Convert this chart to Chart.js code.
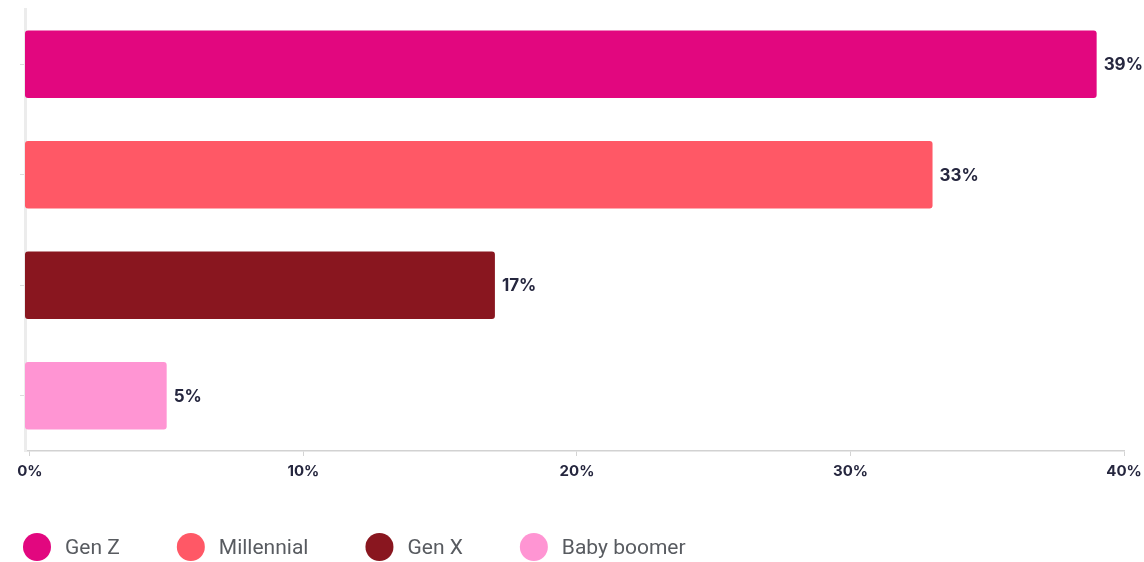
<!DOCTYPE html>
<html>
<head>
<meta charset="utf-8">
<script src="https://cdn.jsdelivr.net/npm/chart.js@4/dist/chart.umd.min.js"></script>
<style>
  html, body { margin: 0; padding: 0; background: #ffffff; }
  #wrap { width: 1144px; height: 562px; }
  canvas { display: block; }
</style>
</head>
<body>
<div id="wrap"><canvas id="chart" width="1144" height="562"></canvas></div>
<script>
// Share of respondents by generation (%)
const generations = ['Gen Z', 'Millennial', 'Gen X', 'Baby boomer'];
const shares = [39, 33, 17, 5];
const barColors = ['#E2077F', '#FF5866', '#89161F', '#FF95D3'];
const xTickValues = [0, 10, 20, 30, 40];

const AXIS_MIN = -0.18;   // bars start flush against the y-axis line
const TEXT_DARK = '#25263e';

// Value labels at the end of each bar
const valueLabels = {
  id: 'valueLabels',
  afterDatasetsDraw(chart) {
    const ctx = chart.ctx;
    const meta = chart.getDatasetMeta(0);
    ctx.save();
    ctx.font = 'bold 17px Inter, "DejaVu Sans", sans-serif';
    ctx.fillStyle = TEXT_DARK;
    ctx.textAlign = 'left';
    ctx.textBaseline = 'middle';
    meta.data.forEach((bar, i) => {
      ctx.fillText(shares[i] + '%', bar.x + 7, bar.y + 1);
    });
    ctx.restore();
  }
};

// Bottom legend: coloured dots followed by generation names
const dotLegend = {
  id: 'dotLegend',
  afterDraw(chart) {
    const ctx = chart.ctx;
    const cy = 547;
    const r = 14;
    let cx = 37;
    ctx.save();
    ctx.font = '21px Roboto, "Noto Sans", sans-serif';
    ctx.textBaseline = 'middle';
    ctx.textAlign = 'left';
    generations.forEach((name, i) => {
      ctx.beginPath();
      ctx.arc(cx, cy, r, 0, Math.PI * 2);
      ctx.fillStyle = barColors[i];
      ctx.fill();
      const tx = cx + 28;
      ctx.fillStyle = '#585b60';
      ctx.fillText(name, tx, cy + 2);
      cx = tx + ctx.measureText(name).width + 71;
    });
    ctx.restore();
  }
};

new Chart(document.getElementById('chart'), {
  type: 'bar',
  data: {
    labels: generations,
    datasets: [{
      data: shares,
      backgroundColor: barColors,
      borderWidth: 0,
      borderRadius: 3,
      borderSkipped: false,
      base: AXIS_MIN,
      barPercentage: 0.61,
      categoryPercentage: 1
    }]
  },
  options: {
    indexAxis: 'y',
    responsive: false,
    animation: false,
    devicePixelRatio: 1,
    layout: { padding: { left: 20, right: 20, top: 9, bottom: 76 } },
    plugins: {
      legend: { display: false },
      tooltip: { enabled: false }
    },
    scales: {
      x: {
        type: 'linear',
        min: AXIS_MIN,
        max: 40,
        afterBuildTicks(scale) {
          scale.ticks = xTickValues.map(v => ({ value: v }));
        },
        afterFit(scale) {
          // let the last tick label sit in the outer padding
          scale.paddingRight = 0;
        },
        grid: {
          drawOnChartArea: false,
          drawTicks: true,
          tickLength: 5,
          color: '#d4d4d4'
        },
        border: { display: true, color: '#d2d2d2', width: 1.5 },
        ticks: {
          padding: 6,
          color: TEXT_DARK,
          font: { family: 'Inter, "DejaVu Sans", sans-serif', size: 15, weight: 'bold' },
          callback: v => v + '%'
        }
      },
      y: {
        type: 'category',
        offset: true,
        grid: {
          offset: false,
          drawOnChartArea: false,
          drawTicks: true,
          tickLength: 5,
          color: '#dddddd'
        },
        border: { display: true, color: '#ececec', width: 3 },
        ticks: { display: false }
      }
    }
  },
  plugins: [valueLabels, dotLegend]
});
</script>
</body>
</html>
